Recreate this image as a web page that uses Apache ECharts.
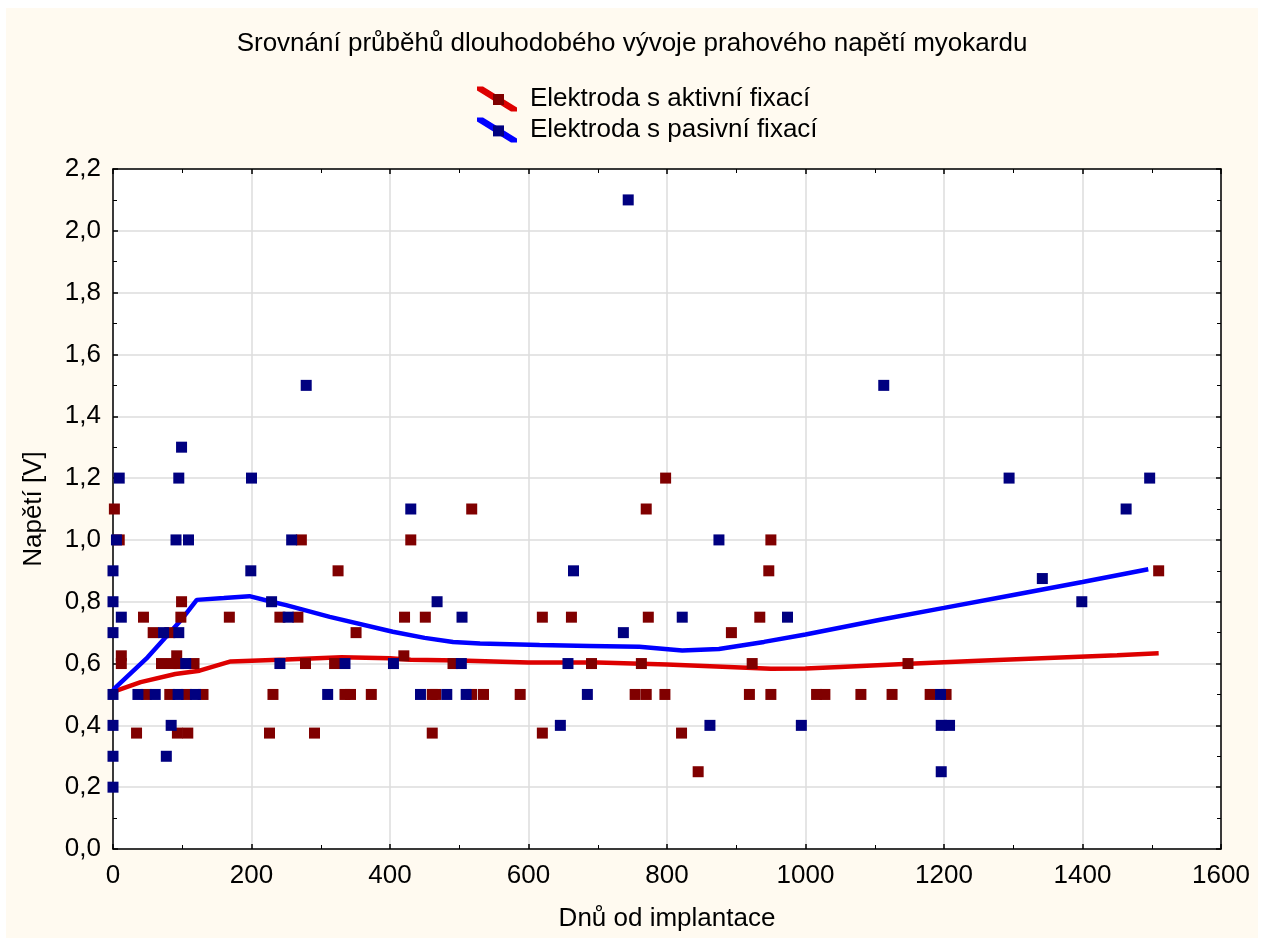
<!DOCTYPE html>
<html>
<head>
<meta charset="utf-8">
<title>Prahové napětí myokardu</title>
<script src="https://cdn.jsdelivr.net/npm/echarts@6/dist/echarts.min.js"></script>
<style>
    body { margin: 0; background: #ffffff; }
    #chart { position: absolute; left: 6px; top: 8px; width: 1252px; height: 930px; }
</style>
</head>
<body>
<div id="chart"></div>
<script>
//popisky
var titleText   = 'Srovnání průběhů dlouhodobého vývoje prahového napětí myokardu';
var xName       = 'Dnů od implantace';
var yName       = 'Napětí [V]';
var seriesNames = ['Elektroda s aktivní fixací', 'Elektroda s pasivní fixací'];

//osy
var xMin = 0, xMax = 1600, xStep = 200;
var yMin = 0, yMax = 2.2,  yStep = 0.2;

//naměřené hodnoty - aktivní fixace [den, V]
var aktivniBody = [
    [2, 1.1], [9, 1.0], [12, 0.625], [12, 0.6], [34, 0.375], [44, 0.75], [48, 0.5], [58, 0.7],
    [70, 0.6], [82, 0.7], [82, 0.5], [85, 0.6], [92, 0.625], [93, 0.375], [95, 0.6], [98, 0.75],
    [99, 0.8], [106, 0.5], [108, 0.375], [117, 0.6], [130, 0.5], [168, 0.75], [226, 0.375], [231, 0.5],
    [241, 0.75], [267, 0.75], [272, 1.0], [278, 0.6], [291, 0.375], [320, 0.6], [325, 0.9], [335, 0.5],
    [343, 0.5], [351, 0.7], [373, 0.5], [420, 0.625], [421, 0.75], [430, 1.0], [451, 0.75], [461, 0.5],
    [466, 0.5], [461, 0.375], [491, 0.6], [518, 1.1], [518, 0.5], [535, 0.5], [588, 0.5], [620, 0.75],
    [620, 0.375], [662, 0.75], [691, 0.6], [754, 0.5], [763, 0.6], [770, 1.1], [770, 0.5], [773, 0.75],
    [797, 0.5], [798, 1.2], [821, 0.375], [845, 0.25], [893, 0.7], [919, 0.5], [923, 0.6], [934, 0.75],
    [947, 0.9], [950, 1.0], [950, 0.5], [1016, 0.5], [1028, 0.5], [1080, 0.5], [1125, 0.5], [1148, 0.6],
    [1180, 0.5], [1203, 0.5], [1510, 0.9]
];

//naměřené hodnoty - pasivní fixace [den, V]
var pasivniBody = [
    [0, 0.2], [0, 0.3], [0, 0.4], [0, 0.5], [0, 0.7], [0, 0.8], [0, 0.9], [5, 1.0],
    [9, 1.2], [12, 0.75], [36, 0.5], [61, 0.5], [73, 0.7], [77, 0.3], [84, 0.4], [91, 1.0],
    [94, 0.5], [95, 0.7], [95, 1.2], [99, 1.3], [105, 0.6], [109, 1.0], [119, 0.5], [199, 0.9],
    [200, 1.2], [229, 0.8], [241, 0.6], [253, 0.75], [258, 1.0], [279, 1.5], [310, 0.5], [335, 0.6],
    [405, 0.6], [430, 1.1], [444, 0.5], [468, 0.8], [482, 0.5], [503, 0.6], [504, 0.75], [510, 0.5],
    [646, 0.4], [657, 0.6], [665, 0.9], [685, 0.5], [737, 0.7], [744, 2.1], [822, 0.75], [862, 0.4],
    [875, 1.0], [974, 0.75], [994, 0.4], [1113, 1.5], [1195, 0.5], [1196, 0.4], [1208, 0.4], [1196, 0.25],
    [1294, 1.2], [1342, 0.875], [1399, 0.8], [1463, 1.1], [1497, 1.2]
];

//vyhlazený průběh
var aktivniTrend = [
    [0, 0.508], [40, 0.54], [90, 0.566], [125, 0.577], [170, 0.607], [250, 0.613], [330, 0.62],
    [400, 0.617], [430, 0.612], [500, 0.61], [600, 0.603], [700, 0.603], [800, 0.597], [880, 0.59],
    [950, 0.583], [1000, 0.584], [1050, 0.589], [1150, 0.599], [1250, 0.609], [1350, 0.618],
    [1450, 0.627], [1510, 0.633]
];
var pasivniTrend = [
    [0, 0.515], [50, 0.62], [100, 0.745], [121, 0.806], [160, 0.812], [197, 0.818], [229, 0.8],
    [250, 0.789], [313, 0.751], [404, 0.703], [450, 0.683], [491, 0.67], [530, 0.665], [616, 0.66],
    [688, 0.657], [760, 0.654], [822, 0.642], [875, 0.647], [940, 0.67], [1000, 0.694], [1106, 0.741],
    [1200, 0.78], [1300, 0.822], [1400, 0.864], [1495, 0.905]
];

var lineColors  = ['#dd0000', '#0000ff'];
var pointColors = ['#800000', '#000080'];
var font = "'Liberation Sans', Arial, sans-serif";

//osa x (dole s popisky, nahoře jen ticky)
function makeXAxis(position, labels) {
    return {
        type: 'value', position: position, min: xMin, max: xMax, interval: xStep,
        name: labels ? xName : '', nameLocation: 'middle', nameGap: 57,
        nameTextStyle: { color: '#000', fontSize: 26, fontFamily: font },
        axisLine: { show: true, onZero: false, lineStyle: { color: '#000', width: 1.5 } },
        axisTick: { show: true, inside: true, length: 5, lineStyle: { color: '#000', width: 1.5 } },
        minorTick: { show: true, splitNumber: 2, length: 4, lineStyle: { color: '#000', width: 1 } },
        axisLabel: {
            show: labels, margin: 14, color: '#000', fontSize: 26, fontFamily: font,
            formatter: function (v) { return String(v); }
        },
        splitLine: { show: labels, lineStyle: { color: '#dcdcdc', width: 1.5 } }
    };
}

//osa y
function makeYAxis(position, labels) {
    return {
        type: 'value', position: position, min: yMin, max: yMax, interval: yStep,
        name: labels ? yName : '', nameLocation: 'middle', nameGap: 66,
        nameTextStyle: { color: '#000', fontSize: 26, fontFamily: font },
        axisLine: { show: true, onZero: false, lineStyle: { color: '#000', width: 1.5 } },
        axisTick: { show: true, inside: true, length: 5, lineStyle: { color: '#000', width: 1.5 } },
        minorTick: { show: true, splitNumber: 2, length: 4, lineStyle: { color: '#000', width: 1 } },
        axisLabel: {
            show: labels, margin: 12, color: '#000', fontSize: 26, fontFamily: font,
            formatter: function (v) { return v.toFixed(1).replace('.', ','); }
        },
        splitLine: { show: labels, lineStyle: { color: '#dcdcdc', width: 1.5 } }
    };
}

var myChart = echarts.init(document.getElementById('chart'));
var option = {
    backgroundColor: '#fffaf0',
    animation: false,
    title: {
        text: titleText, left: 'center', top: 18,
        textStyle: { color: '#000', fontSize: 26, fontWeight: 'normal', fontFamily: font }
    },
    legend: [{
        //čáry
        data: seriesNames, orient: 'vertical', left: 466, top: 73, itemGap: 5,
        itemWidth: 40, itemHeight: 25, selectedMode: false,
        icon: 'path://M0,0L6,0L40,21L40,25L34,25L0,4Z',
        textStyle: { color: '#000', fontSize: 26, fontFamily: font, padding: [0, 0, 0, 8] }
    }, {
        //čtverečky přes čáry
        data: ['aktivni', 'pasivni'], orient: 'vertical', left: 482, top: 81, itemGap: 20.4,
        itemWidth: 11, itemHeight: 11, selectedMode: false, icon: 'rect',
        formatter: function () { return ''; },
        textStyle: { fontSize: 1 }
    }],
    grid: {
        left: 107, right: 37, top: 161, bottom: 89,
        show: true, backgroundColor: '#ffffff', borderWidth: 0
    },
    xAxis: [makeXAxis('bottom', true), makeXAxis('top', false)],
    yAxis: [makeYAxis('left', true), makeYAxis('right', false)],
    series: [{
        name: seriesNames[0], type: 'line', data: aktivniTrend, showSymbol: false,
        color: lineColors[0], lineStyle: { width: 4.5, color: lineColors[0] }, z: 2
    }, {
        name: seriesNames[1], type: 'line', data: pasivniTrend, showSymbol: false,
        color: lineColors[1], lineStyle: { width: 4.5, color: lineColors[1] }, z: 2
    }, {
        name: 'aktivni', type: 'scatter', data: aktivniBody, symbol: 'rect', symbolSize: 11,
        itemStyle: { color: pointColors[0], opacity: 1 }, z: 3
    }, {
        name: 'pasivni', type: 'scatter', data: pasivniBody, symbol: 'rect', symbolSize: 11,
        itemStyle: { color: pointColors[1], opacity: 1 }, z: 3
    }]
};
myChart.setOption(option);
</script>
</body>
</html>
